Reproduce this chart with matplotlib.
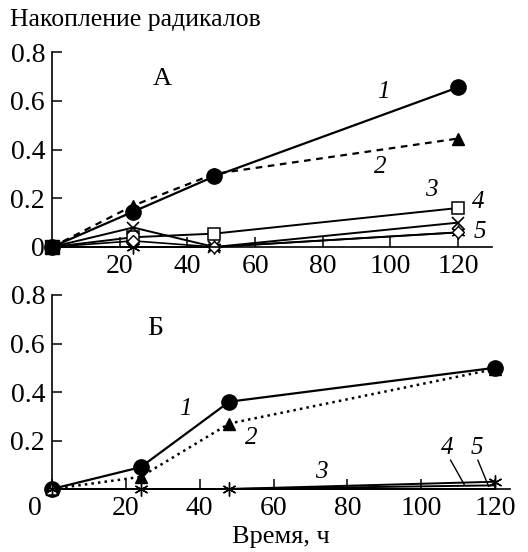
import matplotlib
matplotlib.use("Agg")
import matplotlib.pyplot as plt
from matplotlib.transforms import ScaledTranslation

plt.rcParams['font.family'] = ['Liberation Serif', 'DejaVu Serif']

# ---- data ----
t = [0, 24, 48, 120]
# Panel A
a1 = [0, 0.145, 0.29, 0.655]
a2 = [0, 0.17, 0.30, 0.445]
a3 = [0, 0.04, 0.055, 0.16]
a4 = [0, 0.08, 0.0, 0.10]
a5 = [0, 0.0, 0.0, 0.06]
a6 = [0, 0.025, 0.0, 0.06]
# Panel B
b1 = [0, 0.09, 0.36, 0.50]
b2 = [0, 0.05, 0.27, 0.495]
b3 = [0, 0.0, 0.0, 0.03]
b4 = [0, 0.0, 0.0, 0.015]
b5 = [0, 0.0, 0.0, 0.0]

xt = [20, 40, 60, 80, 100, 120]
yt = [0.2, 0.4, 0.6, 0.8]

W, H = 528, 552
fig = plt.figure(figsize=(W / 100, H / 100), dpi=100)

def px_axes(l, r, top, bot):
    return fig.add_axes([l / W, 1 - bot / H, (r - l) / W, (bot - top) / H])

ast = (6, 2, 0)
fs = 20
k = dict(color='black', clip_on=False)

def style(ax, xmax):
    ax.set_xlim(0, xmax)
    ax.set_ylim(0, 0.8)
    for s in ['top', 'right']:
        ax.spines[s].set_visible(False)
    for s in ['left', 'bottom']:
        ax.spines[s].set_linewidth(1.2)
    ax.tick_params(direction='in', length=7, width=1.1, labelsize=fs, pad=5)
    ax.set_facecolor('none')

# ---------- Panel A ----------
ax = px_axes(52, 492, 52, 247)
style(ax, 130)
ax.plot(t, a1, '-', lw=1.6, marker='o', ms=11, mfc='black', **k)
ax.plot(t, a2, '--', lw=1.6, dashes=(3, 2.5), marker='^', ms=9, mfc='black', **k)
ax.plot(t, a3, '-', lw=1.4, marker='s', ms=9, mfc='white', mew=1.1, **k)
ax.plot(t, a4, '-', lw=1.4, marker='x', ms=9, mew=1.2, **k)
ax.plot(t, a5, '-', lw=1.4, marker=ast, ms=10, mew=1.0, **k)
ax.plot(t, a6, '-', lw=1.2, marker='D', ms=6, mfc='white', mew=1.0, **k)
ax.plot([0], [0], marker='s', ms=10, color='black', clip_on=False, zorder=5)
ax.set_xticks(xt)
ax.set_yticks([0] + yt)
ax.set_yticklabels(['0', '0.2', '0.4', '0.6', '0.8'])
ax.text(32.5, 0.69, 'А', fontsize=19, ha='center', va='center')
ax.text(98, 0.635, '1', fontsize=18, style='italic', ha='center', va='center')
ax.text(97, 0.33, '2', fontsize=18, style='italic', ha='center', va='center')
ax.text(112, 0.235, '3', fontsize=18, style='italic', ha='center', va='center')
ax.text(126, 0.185, '4', fontsize=18, style='italic', ha='center', va='center')
ax.text(126.5, 0.062, '5', fontsize=18, style='italic', ha='center', va='center')
fig.text(10 / W, 1 - 20 / H, 'Накопление радикалов', fontsize=18.5, ha='left', va='center')

# ---------- Panel B ----------
bx = px_axes(52, 510, 295, 489)
style(bx, 124)
bx.plot(t, b1, '-', lw=1.6, marker='o', ms=11, mfc='black', **k)
bx.plot(t, b2, ':', lw=1.8, marker='^', ms=9, mfc='black', **k)
bx.plot(t, b3, '-', lw=1.4, marker=ast, ms=10, mew=1.0, **k)
bx.plot(t, b4, '-', lw=1.4, **k)
bx.plot(t, b5, '-', lw=1.4, **k)
bx.plot([0], [0], marker='^', ms=9, mfc='white', mew=1.1, color='black', clip_on=False, zorder=5)
bx.plot([0], [0], marker=ast, ms=10, mew=1.0, color='black', clip_on=False, zorder=6)
bx.set_xticks([0] + xt)
bx.set_xticklabels(['0'] + [str(v) for v in xt])
lab0 = bx.get_xticklabels()[0]
lab0.set_transform(lab0.get_transform() + ScaledTranslation(-17 / 100, 0, fig.dpi_scale_trans))
bx.set_yticks(yt)
bx.set_yticklabels(['0.2', '0.4', '0.6', '0.8'])
bx.set_xlabel('Время, ч', fontsize=19, labelpad=4)
bx.text(28, 0.66, 'Б', fontsize=20, ha='center', va='center')
bx.text(36, 0.33, '1', fontsize=18, style='italic', ha='center', va='center')
bx.text(54, 0.21, '2', fontsize=18, style='italic', ha='center', va='center')
bx.text(73, 0.07, '3', fontsize=18, style='italic', ha='center', va='center')
bx.text(107, 0.17, '4', fontsize=18, style='italic', ha='center', va='center')
bx.text(115, 0.17, '5', fontsize=18, style='italic', ha='center', va='center')
bx.annotate('', xy=(112, 0.008), xytext=(107.5, 0.13),
            arrowprops=dict(arrowstyle='-', lw=1.0, color='black'))
bx.annotate('', xy=(118.5, 0.0), xytext=(115, 0.13),
            arrowprops=dict(arrowstyle='-', lw=1.0, color='black'))

fig.savefig('out.png', dpi=100)
